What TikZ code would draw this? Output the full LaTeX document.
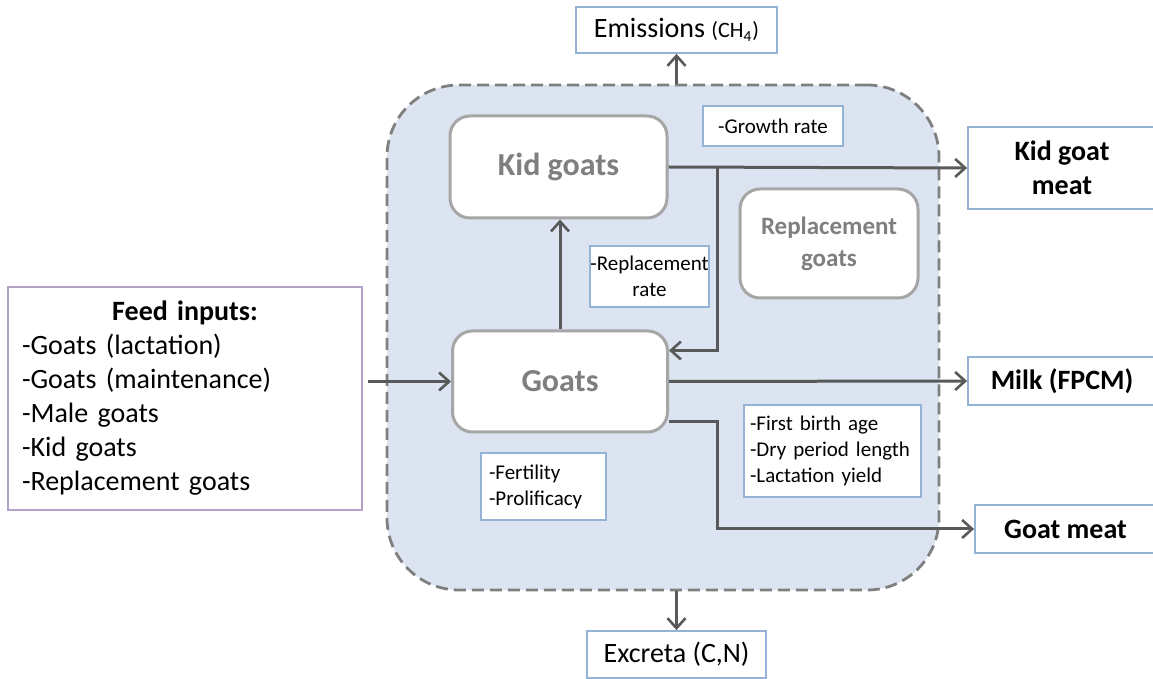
\documentclass[tikz,border=0pt]{standalone}
\usepackage{fontspec}
\setmainfont{Carlito}
\usetikzlibrary{arrows.meta}

\definecolor{sysfill}{HTML}{DBE4F0}
\definecolor{sysline}{HTML}{7F7F7F}
\definecolor{stockline}{HTML}{A6A6A6}
\definecolor{stocktext}{HTML}{7F7F7F}
\definecolor{parline}{HTML}{95B3D7}
\definecolor{feedline}{HTML}{B3A2C7}
\definecolor{flowcol}{HTML}{595959}

\begin{document}
\begin{tikzpicture}[x=0.5pt, y=-0.5pt,
    every node/.style={font=\fontsize{14pt}{17pt}\selectfont, inner sep=0pt},
    system/.style={draw=sysline, fill=sysfill, line width=1.4pt, dash pattern=on 6pt off 3pt, rounded corners=36pt},
    stock/.style={draw=stockline, fill=white, line width=1.5pt, rounded corners=10pt, text=stocktext, font=\fontsize{16pt}{19pt}\selectfont\bfseries, align=center},
    param/.style={draw=parline, fill=white, line width=0.7pt, font=\fontsize{10.5pt}{13pt}\selectfont, align=left},
    outbox/.style={draw=parline, fill=white, line width=0.9pt, align=center},
    flow/.style={draw=flowcol, line width=1.5pt, -{Straight Barb[length=5pt, width=9pt, line width=1.3pt]}}]
\useasboundingbox (0,0) rectangle (1153,679);

% system boundary
\node[system, minimum width=276pt, minimum height=252.5pt] (sys) at (663,337.5) {};

% stocks
\node[stock, minimum width=108.5pt, minimum height=51pt] (kid) at (558.5,167) {Kid goats};
\node[stock, minimum width=107.5pt, minimum height=50.5pt] (goats) at (560,381.5) {Goats};
\node[stock, minimum width=89pt, minimum height=54.5pt, font=\fontsize{12.5pt}{16pt}\selectfont\bfseries] (repl) at (829,243.5) {Replacement\\goats};

% parameters
\node[param, minimum width=70pt, minimum height=20pt, align=center] (growth) at (773,126) {-Growth rate};
\node[param, minimum width=59.5pt, minimum height=30.5pt, align=center] (rrate) at (649.5,276.5) {-Replacement\\rate};
\node[param, minimum width=88.5pt, minimum height=46pt, inner xsep=3pt, text width=82.5pt] (birth) at (832.5,451) {-First birth age\\-Dry period length\\-Lactation yield};
\node[param, minimum width=62.5pt, minimum height=33.5pt, inner xsep=4pt, text width=54.5pt] (fert) at (543.5,486.5) {-Fertility\\-Prolificacy};

% inputs and outputs
\node[draw=feedline, fill=white, line width=0.9pt, minimum width=177pt, minimum height=111.5pt, inner xsep=7pt, text width=163pt] (feed) at (185,398.5)
  {{\centering\textbf{Feed inputs:}\par}\raggedright
   -Goats (lactation)\\-Goats (maintenance)\\-Male goats\\-Kid goats\\-Replacement goats};
\node[outbox, minimum width=94pt, minimum height=41pt, font=\fontsize{14pt}{17pt}\selectfont\bfseries] (kidmeat) at (1062,168) {Kid goat\\meat};
\node[outbox, minimum width=94pt, minimum height=24pt, font=\fontsize{14pt}{17pt}\selectfont\bfseries] (milk) at (1062,381) {Milk (FPCM)};
\node[outbox, minimum width=90.5pt, minimum height=24pt, font=\fontsize{14pt}{17pt}\selectfont\bfseries] (gmeat) at (1065.5,529) {Goat meat};
\node[outbox, minimum width=100.5pt, minimum height=23pt] (emis) at (676.5,30) {Emissions {\fontsize{11pt}{13pt}\selectfont(CH\textsubscript{4})}};
\node[outbox, minimum width=89.5pt, minimum height=23.5pt] (excr) at (676.5,654.5) {Excreta (C,N)};

\coordinate (split) at (717,168);

% flows
\draw[flow] ([xshift=2.5pt]feed.east |- goats.west) -- (goats.west);
\draw[flow] (goats.north) -- (goats.north |- kid.south);
\draw[flow] (kid.east) -- (kidmeat.west);
\draw[flow] (split) |- ([yshift=15.5pt]goats.east);
\draw[flow] (goats.east) -- (milk.west);
\draw[flow] ([yshift=-20pt]goats.east) -| (717,529) -- (gmeat.west);
\draw[flow] (emis.south |- sys.north) -- (emis.south);
\draw[flow] (excr.north |- sys.south) -- (excr.north);
\end{tikzpicture}
\end{document}
